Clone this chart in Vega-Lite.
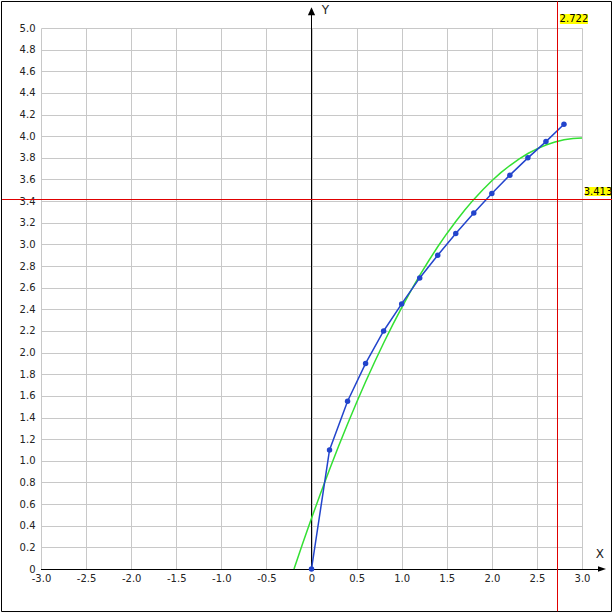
{
  "$schema": "https://vega.github.io/schema/vega-lite/v6.json",
  "width": 541,
  "height": 541,
  "autosize": {"type": "none"},
  "padding": {"left": 41, "top": 28, "right": 31, "bottom": 44},
  "background": "white",
  "config": {
    "view": {"stroke": null},
    "font": "DejaVu Sans",
    "axis": {
      "grid": true,
      "gridColor": "#c8c8c8",
      "gridWidth": 1,
      "gridOpacity": 1,
      "domain": false,
      "ticks": false,
      "tickCount": 40,
      "labelFont": "DejaVu Sans",
      "labelFontSize": 10,
      "labelColor": "#222222",
      "labelFlush": false,
      "labelOverlap": false,
      "title": null
    }
  },
  "datasets": {
    "blue": [
      {"x": 0, "y": 0},
      {"x": 0.2, "y": 1.10},
      {"x": 0.4, "y": 1.55},
      {"x": 0.6, "y": 1.90},
      {"x": 0.8, "y": 2.20},
      {"x": 1.0, "y": 2.45},
      {"x": 1.2, "y": 2.69},
      {"x": 1.4, "y": 2.90},
      {"x": 1.6, "y": 3.10},
      {"x": 1.8, "y": 3.29},
      {"x": 2.0, "y": 3.47},
      {"x": 2.2, "y": 3.64},
      {"x": 2.4, "y": 3.80},
      {"x": 2.6, "y": 3.95},
      {"x": 2.8, "y": 4.11}
    ],
    "green": [
      {"x": -0.194, "y": 0},
      {"x": -0.1, "y": 0.231},
      {"x": 0, "y": 0.468},
      {"x": 0.1, "y": 0.698},
      {"x": 0.2, "y": 0.920},
      {"x": 0.3, "y": 1.134},
      {"x": 0.4, "y": 1.340},
      {"x": 0.5, "y": 1.539},
      {"x": 0.6, "y": 1.730},
      {"x": 0.7, "y": 1.913},
      {"x": 0.8, "y": 2.089},
      {"x": 0.9, "y": 2.256},
      {"x": 1.0, "y": 2.416},
      {"x": 1.1, "y": 2.568},
      {"x": 1.2, "y": 2.713},
      {"x": 1.3, "y": 2.849},
      {"x": 1.4, "y": 2.978},
      {"x": 1.5, "y": 3.099},
      {"x": 1.6, "y": 3.212},
      {"x": 1.7, "y": 3.318},
      {"x": 1.8, "y": 3.416},
      {"x": 1.9, "y": 3.506},
      {"x": 2.0, "y": 3.588},
      {"x": 2.1, "y": 3.663},
      {"x": 2.2, "y": 3.729},
      {"x": 2.3, "y": 3.788},
      {"x": 2.4, "y": 3.840},
      {"x": 2.5, "y": 3.883},
      {"x": 2.6, "y": 3.919},
      {"x": 2.7, "y": 3.947},
      {"x": 2.8, "y": 3.967},
      {"x": 2.9, "y": 3.979},
      {"x": 3.0, "y": 3.984}
    ]
  },
  "layer": [
    {
      "data": {"values": [{"x": -3.438, "x2": 3.327, "y": -0.393, "y2": 5.245}]},
      "mark": {"type": "rect", "fill": null, "stroke": "black", "strokeWidth": 1, "clip": false},
      "encoding": {
        "x": {
          "field": "x", "type": "quantitative",
          "scale": {"domain": [-3, 3], "nice": false, "zero": false},
          "axis": {
            "values": [-3, -2.5, -2, -1.5, -1, -0.5, 0, 0.5, 1, 1.5, 2, 2.5, 3],
            "tickCount": 40,
            "labelExpr": "datum.value == 0 ? '0' : replace(format(datum.value, '.1f'), '\u2212', '-')",
            "labelPadding": 4
          }
        },
        "x2": {"field": "x2"},
        "y": {
          "field": "y", "type": "quantitative",
          "scale": {"domain": [0, 5], "nice": false, "zero": false},
          "axis": {
            "values": [0, 0.2, 0.4, 0.6, 0.8, 1, 1.2, 1.4, 1.6, 1.8, 2, 2.2, 2.4, 2.6, 2.8, 3, 3.2, 3.4, 3.6, 3.8, 4, 4.2, 4.4, 4.6, 4.8, 5],
            "tickCount": 40,
            "labelExpr": "datum.value == 0 ? '0' : format(datum.value, '.1f')",
            "labelPadding": 6
          }
        },
        "y2": {"field": "y2"}
      }
    },
    {
      "data": {"values": [
        {"x": 0, "y": 0, "x2": 0, "y2": 5.16},
        {"x": -3, "y": 0, "x2": 3.2, "y2": 0}
      ]},
      "mark": {"type": "rule", "color": "black", "strokeWidth": 1, "clip": false, "yOffset": 0.5, "y2Offset": 0.5},
      "encoding": {
        "x": {"field": "x", "type": "quantitative"},
        "x2": {"field": "x2"},
        "y": {"field": "y", "type": "quantitative"},
        "y2": {"field": "y2"}
      }
    },
    {
      "data": {"values": [{"x": 0, "y": 5.191}]},
      "mark": {"type": "point", "shape": "M0,0L-0.45,1L0.45,1Z", "size": 256, "filled": true, "color": "black", "opacity": 1, "clip": false},
      "encoding": {
        "x": {"field": "x", "type": "quantitative"},
        "y": {"field": "y", "type": "quantitative"}
      }
    },
    {
      "data": {"values": [{"x": 3.266, "y": 0}]},
      "mark": {"type": "point", "shape": "M0,0L-1,-0.35L-1,0.35Z", "size": 256, "filled": true, "color": "black", "opacity": 1, "clip": false},
      "encoding": {
        "x": {"field": "x", "type": "quantitative"},
        "y": {"field": "y", "type": "quantitative"}
      }
    },
    {
      "data": {"values": [{"x": 0, "y": 5.191, "t": "Y"}]},
      "mark": {"type": "text", "dx": 14, "dy": 3, "fontSize": 12, "font": "DejaVu Sans", "color": "#222222", "align": "center", "baseline": "middle"},
      "encoding": {
        "x": {"field": "x", "type": "quantitative"},
        "y": {"field": "y", "type": "quantitative"},
        "text": {"field": "t"}
      }
    },
    {
      "data": {"values": [{"x": 3.266, "y": 0, "t": "X"}]},
      "mark": {"type": "text", "dx": -6, "dy": -15, "fontSize": 12, "font": "DejaVu Sans", "color": "#222222", "align": "center", "baseline": "middle"},
      "encoding": {
        "x": {"field": "x", "type": "quantitative"},
        "y": {"field": "y", "type": "quantitative"},
        "text": {"field": "t"}
      }
    },
    {
      "data": {"name": "green"},
      "mark": {"type": "line", "color": "#33e033", "strokeWidth": 1.5},
      "encoding": {
        "x": {"field": "x", "type": "quantitative"},
        "y": {"field": "y", "type": "quantitative"}
      }
    },
    {
      "data": {"name": "blue"},
      "mark": {"type": "line", "color": "#2244cc", "strokeWidth": 1.5, "point": {"filled": true, "size": 30, "color": "#2244cc", "opacity": 1}},
      "encoding": {
        "x": {"field": "x", "type": "quantitative"},
        "y": {"field": "y", "type": "quantitative"}
      }
    },
    {
      "data": {"values": [
        {"x": 2.722, "x2": 2.722, "y": -0.393, "y2": 5.245},
        {"x": -3.438, "x2": 3.327, "y": 3.413, "y2": 3.413}
      ]},
      "mark": {"type": "rule", "color": "#e00000", "strokeWidth": 1, "clip": false, "xOffset": 0.57, "x2Offset": 0.57, "yOffset": -0.21, "y2Offset": -0.21},
      "encoding": {
        "x": {"field": "x", "type": "quantitative"},
        "x2": {"field": "x2"},
        "y": {"field": "y", "type": "quantitative"},
        "y2": {"field": "y2"}
      }
    },
    {
      "data": {"values": [{"x": 2.722, "y": 5.0}]},
      "mark": {"type": "point", "shape": "M0.107,-0.5L1.107,-0.5L1.107,-0.143L0.107,-0.143Z", "size": 3136, "filled": true, "color": "#ffff00", "opacity": 1, "clip": false},
      "encoding": {
        "x": {"field": "x", "type": "quantitative"},
        "y": {"field": "y", "type": "quantitative"}
      }
    },
    {
      "data": {"values": [{"x": 3.0, "y": 3.413}]},
      "mark": {"type": "point", "shape": "M0.107,-0.454L1.036,-0.454L1.036,-0.132L0.107,-0.132Z", "size": 3136, "filled": true, "color": "#ffff00", "opacity": 1, "clip": false},
      "encoding": {
        "x": {"field": "x", "type": "quantitative"},
        "y": {"field": "y", "type": "quantitative"}
      }
    },
    {
      "data": {"values": [{"x": 2.722, "y": 5.0, "t": "2.722"}]},
      "mark": {"type": "text", "dx": 17, "dy": -9, "fontSize": 10, "font": "DejaVu Sans", "color": "#000000", "align": "center", "baseline": "middle", "clip": false},
      "encoding": {
        "x": {"field": "x", "type": "quantitative"},
        "y": {"field": "y", "type": "quantitative"},
        "text": {"field": "t"}
      }
    },
    {
      "data": {"values": [{"x": 3.0, "y": 3.413, "t": "3.413"}]},
      "mark": {"type": "text", "dx": 16, "dy": -8, "fontSize": 10, "font": "DejaVu Sans", "color": "#000000", "align": "center", "baseline": "middle", "clip": false},
      "encoding": {
        "x": {"field": "x", "type": "quantitative"},
        "y": {"field": "y", "type": "quantitative"},
        "text": {"field": "t"}
      }
    }
  ]
}
